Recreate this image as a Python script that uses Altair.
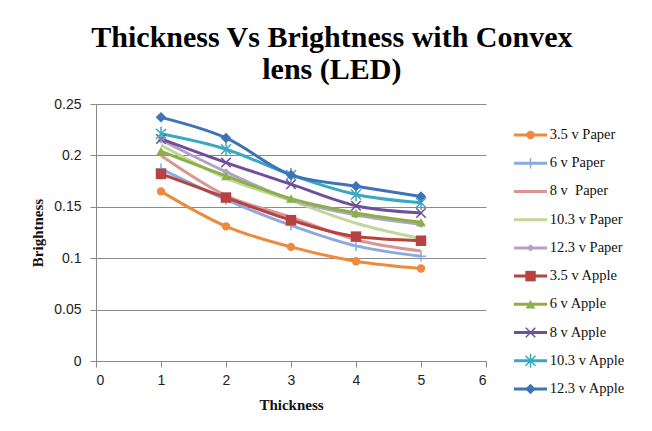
import altair as alt
import pandas as pd

thickness = [1, 2, 3, 4, 5]
series = ["3.5 v Paper", "6 v Paper", "8 v\u00a0 Paper", "10.3 v Paper", "12.3 v Paper",
          "3.5 v Apple", "6 v Apple", "8 v Apple", "10.3 v Apple", "12.3 v Apple"]
p35 = [0.165, 0.131, 0.111, 0.097, 0.090]
p6 = [0.187, 0.157, 0.132, 0.112, 0.102]
p8 = [0.200, 0.161, 0.140, 0.118, 0.107]
p103 = [0.210, 0.178, 0.156, 0.134, 0.119]
p123 = [0.215, 0.184, 0.157, 0.142, 0.133]
a35 = [0.182, 0.159, 0.137, 0.121, 0.117]
a6 = [0.204, 0.180, 0.158, 0.144, 0.135]
a8 = [0.216, 0.193, 0.172, 0.151, 0.144]
a103 = [0.221, 0.206, 0.181, 0.162, 0.154]
a123 = [0.237, 0.217, 0.181, 0.170, 0.160]
values = [p35, p6, p8, p103, p123, a35, a6, a8, a103, a123]
colors = ["#EE8A3C", "#8CAADB", "#D99694", "#C3D69B", "#B3A2C7",
          "#B8423F", "#8DB046", "#6F4F9B", "#3AA8C1", "#3E73B8"]

rows = []
for s, vals in zip(series, values):
    for t, v in zip(thickness, vals):
        rows.append({"series": s, "thickness": t, "brightness": v})
df = pd.DataFrame(rows)

color_scale = alt.Scale(domain=series, range=colors)
color = alt.Color("series:N", scale=color_scale, legend=None)

markers = {
    "3.5 v Paper": dict(shape="circle", size=70, filled=True),
    "6 v Paper": dict(shape="M-1,0H1M0,-1V1", size=110, filled=False, strokeWidth=1.5),
    "12.3 v Paper": dict(shape="diamond", size=55, filled=True),
    "3.5 v Apple": dict(shape="square", size=110, filled=True),
    "6 v Apple": dict(shape="triangle-up", size=95, filled=True),
    "8 v Apple": dict(shape="M-1,-1L1,1M-1,1L1,-1", size=90, filled=False, strokeWidth=1.5),
    "10.3 v Apple": dict(shape="M-1,-1L1,1M-1,1L1,-1M0,-1.4V1.4", size=100, filled=False, strokeWidth=1.5),
    "12.3 v Apple": dict(shape="diamond", size=110, filled=True),
}

serif = "Liberation Serif"
sans = "Liberation Sans"

x = alt.X("thickness:Q", scale=alt.Scale(domain=[0, 6], nice=False),
          axis=alt.Axis(title="Thickness", values=[0, 1, 2, 3, 4, 5, 6], grid=False,
                        tickSize=6, tickColor="#888888", domainColor="#888888",
                        labelFont=sans, labelFontSize=14, labelColor="#222222", labelPadding=6,
                        titleFont=serif, titleFontSize=15, titleFontWeight="bold",
                        titleColor="#111111", titlePadding=10))
y = alt.Y("brightness:Q", scale=alt.Scale(domain=[0, 0.25], nice=False),
          axis=alt.Axis(title="Brightness", values=[0, 0.05, 0.1, 0.15, 0.2, 0.25], format=".2~f",
                        grid=True, gridColor="#8a8a8a", tickSize=6, tickColor="#888888",
                        domainColor="#888888", labelFont=sans, labelFontSize=14,
                        labelColor="#222222", labelPadding=9,
                        titleFont=serif, titleFontSize=15, titleFontWeight="bold",
                        titleColor="#111111", titlePadding=8))

base = alt.Chart(df)
lines = base.mark_line(interpolate="monotone", strokeWidth=3).encode(x=x, y=y, color=color)
layers = [lines]
for s in series:
    if s in markers:
        layers.append(base.transform_filter(alt.datum.series == s)
                      .mark_point(opacity=1, **markers[s]).encode(x=x, y=y, color=color))
main = alt.layer(*layers).properties(width=390, height=257)

leg_df = pd.DataFrame({"series": series})
lscale = alt.Scale(domain=[0, 3.6])
ly = alt.Y("series:N", scale=alt.Scale(type="point", domain=series, range=[31, 285], padding=0),
           axis=None)
lbase = alt.Chart(leg_df)
lrule = lbase.mark_rule(strokeWidth=3).encode(
    x=alt.X(datum=0, scale=lscale, axis=None), x2=alt.X2(datum=1), y=ly, color=color)
llayers = [lrule]
for s in series:
    if s in markers:
        llayers.append(lbase.transform_filter(alt.datum.series == s)
                       .mark_point(opacity=1, **markers[s])
                       .encode(x=alt.X(datum=0.5, scale=lscale, axis=None), y=ly, color=color))
ltext = lbase.mark_text(align="left", baseline="middle", font=serif, fontSize=14.5,
                        color="#111111").encode(
    x=alt.X(datum=1.08, scale=lscale, axis=None), y=ly, text="series:N")
llayers.append(ltext)
legend = alt.layer(*llayers).properties(width=119, height=300)

chart = alt.hconcat(main, legend, spacing=25).properties(
    title=alt.Title(["Thickness Vs Brightness with Convex", "lens (LED)"], font=serif,
                    fontSize=30, fontWeight="bold", anchor="middle", lineHeight=32,
                    color="#000000", offset=12),
    padding={"left": 22, "top": 14, "right": 0, "bottom": 2},
).configure_view(stroke="transparent")

chart.save("out.html", embed_options={"renderer": "svg", "actions": False})
